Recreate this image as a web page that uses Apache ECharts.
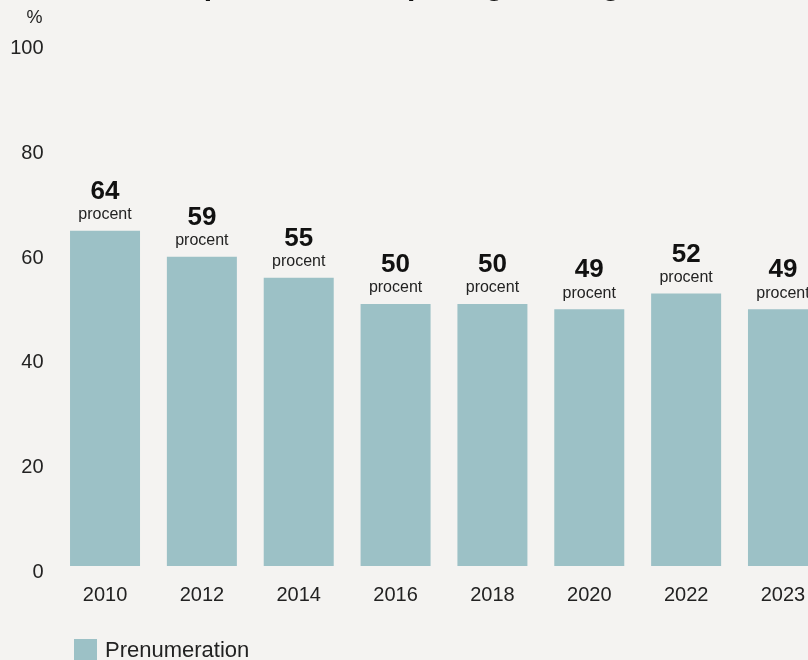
<!DOCTYPE html>
<html>
<head>
<meta charset="utf-8">
<script src="https://cdn.jsdelivr.net/npm/echarts@6/dist/echarts.min.js"></script>
<style>
html,body{margin:0;padding:0;background:#f4f3f1;}
#chart{width:808px;height:660px;}
</style>
</head>
<body>
<div id="chart"></div>
<script>
const titleText = 'Andel som prenumererar på dagstidning';
const categories = ['2010', '2012', '2014', '2016', '2018', '2020', '2022', '2023'];
const values = [64, 59, 55, 50, 50, 49, 52, 49];
const seriesName = 'Prenumeration';
const unitLabel = 'procent';
const yTicks = [0, 20, 40, 60, 80, 100];

const chart = echarts.init(document.getElementById('chart'));
const font = 'Liberation Sans, Arial, sans-serif';
chart.setOption({
  backgroundColor: '#f4f3f1',
  animation: false,
  textStyle: { fontFamily: font },
  title: {
    text: titleText,
    left: 37,
    top: -33,
    textStyle: { fontSize: 30, fontWeight: 'bold', color: '#111', fontFamily: font }
  },
  legend: {
    data: [seriesName],
    left: 69,
    top: 634,
    itemWidth: 23,
    itemHeight: 23,
    itemGap: 10,
    icon: 'rect',
    textStyle: { fontSize: 22, color: '#222', fontFamily: font, padding: [0, 0, 0, 3] }
  },
  grid: { left: 56.6, right: -23.4, top: 42, height: 524, containLabel: false, outerBoundsMode: 'none' },
  xAxis: {
    type: 'category',
    data: categories,
    axisLine: { show: false },
    axisTick: { show: false },
    axisLabel: { fontSize: 20, color: '#222', margin: 19, fontFamily: font }
  },
  yAxis: {
    type: 'value',
    min: yTicks[0],
    max: yTicks[yTicks.length - 1],
    interval: 20,
    name: '%',
    nameLocation: 'end',
    nameGap: 15,
    nameTextStyle: { fontSize: 18, color: '#222', align: 'right', padding: [0, 14, 0, 0], fontFamily: font },
    splitLine: { show: false },
    axisLine: { show: false },
    axisTick: { show: false },
    axisLabel: { fontSize: 20, color: '#222', margin: 13, verticalAlign: 'top', lineHeight: 13, fontFamily: font }
  },
  series: [{
    name: seriesName,
    type: 'bar',
    data: values,
    barWidth: 70,
    itemStyle: { color: '#9cc1c6' },
    label: {
      show: true,
      position: 'top',
      distance: 6,
      formatter: function (p) { return '{v|' + p.value + '}\n{p|' + unitLabel + '}'; },
      rich: {
        v: { fontSize: 26, fontWeight: 'bold', color: '#111', lineHeight: 26, align: 'center', fontFamily: font },
        p: { fontSize: 16, color: '#222', lineHeight: 20, align: 'center', fontFamily: font }
      }
    }
  }]
});
</script>
</body>
</html>
